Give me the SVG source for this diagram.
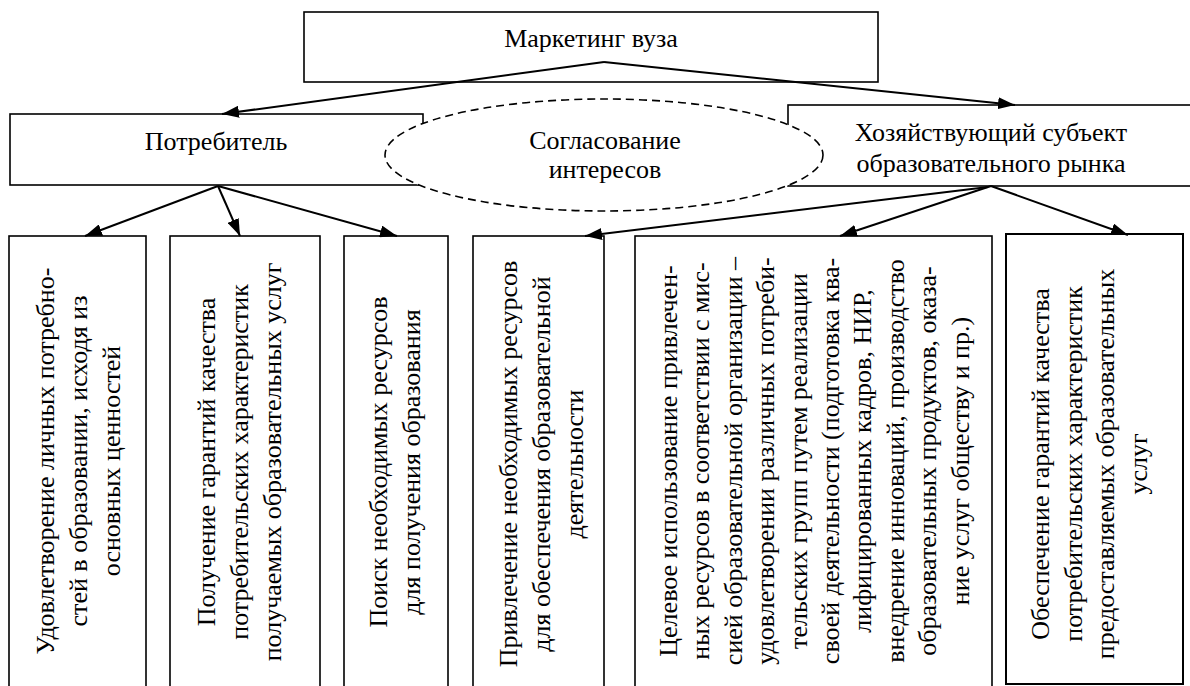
<svg xmlns="http://www.w3.org/2000/svg" width="1190" height="686" viewBox="0 0 1190 686" font-family="'Liberation Serif', Tinos, 'Times New Roman', 'DejaVu Serif', serif">
<defs>
<marker id="ah" markerUnits="userSpaceOnUse" markerWidth="18" markerHeight="12" refX="17" refY="6" orient="auto"><path d="M0,0 L17,6 L0,12 z" fill="#000"/></marker>
<style>
.box{fill:#fff;stroke:#000;stroke-width:1.6}
.t{font-family:'Liberation Serif',Tinos,'Times New Roman','DejaVu Serif',serif;font-size:26px;fill:#000;text-anchor:middle}
.c{fill:none;stroke:#000;stroke-width:2;marker-end:url(#ah)}
.ell{fill:#fff;stroke:#000;stroke-width:1.6;stroke-dasharray:8 5}
</style>
</defs>
<rect width="1190" height="686" fill="#fff"/>
<g id="n-marketing">
<rect class="box" x="304" y="12" width="574" height="70"/>
<text class="t" x="591" y="47">Маркетинг вуза</text>
</g>
<g id="n-consumer">
<rect class="box" x="10" y="114" width="413" height="71"/>
<text class="t" x="216" y="150">Потребитель</text>
</g>
<g id="n-subject">
<rect class="box" x="788" y="105" width="410" height="81"/>
<text class="t" x="991" y="141">Хозяйствующий субъект</text>
<text class="t" x="991" y="172">образовательного рынка</text>
</g>
<g id="n-agreement">
<ellipse class="ell" cx="604" cy="155" rx="219" ry="56"/>
<text class="t" x="605" y="149">Согласование</text>
<text class="t" x="605" y="178">интересов</text>
</g>
<g id="n-b1">
<rect class="box" x="9" y="236" width="137" height="470"/>
<text class="t" transform="translate(54,461) rotate(-90)"><tspan x="0" y="0">Удовлетворение личных потребно-</tspan><tspan x="0" y="33">стей в образовании, исходя из</tspan><tspan x="0" y="66">основных ценностей</tspan></text>
</g>
<g id="n-b2">
<rect class="box" x="170" y="236" width="150" height="470"/>
<text class="t" transform="translate(215,462) rotate(-90)"><tspan x="0" y="0">Получение гарантий качества</tspan><tspan x="0" y="33">потребительских характеристик</tspan><tspan x="0" y="66">получаемых образовательных услуг</tspan></text>
</g>
<g id="n-b3">
<rect class="box" x="344" y="236" width="104" height="470"/>
<text class="t" transform="translate(387,462) rotate(-90)"><tspan x="0" y="0">Поиск необходимых ресурсов</tspan><tspan x="0" y="33">для получения образования</tspan></text>
</g>
<g id="n-b4">
<rect class="box" x="473" y="236" width="131" height="470"/>
<text class="t" transform="translate(517,464) rotate(-90)"><tspan x="0" y="0">Привлечение необходимых ресурсов</tspan><tspan x="0" y="33">для обеспечения образовательной</tspan><tspan x="0" y="66">деятельности</tspan></text>
</g>
<g id="n-b5">
<rect class="box" x="635" y="236" width="357" height="470"/>
<text class="t" transform="translate(677,461) rotate(-90)"><tspan x="0" y="0">Целевое использование привлечен-</tspan><tspan x="0" y="32.4">ных ресурсов в соответствии с мис-</tspan><tspan x="0" y="64.8">сией образовательной организации –</tspan><tspan x="0" y="97.2">удовлетворении различных потреби-</tspan><tspan x="0" y="129.6">тельских групп путем реализации</tspan><tspan x="0" y="162">своей деятельности (подготовка ква-</tspan><tspan x="0" y="194.4">лифицированных кадров, НИР,</tspan><tspan x="0" y="226.8">внедрение инноваций, производство</tspan><tspan x="0" y="259.2">образовательных продуктов, оказа-</tspan><tspan x="0" y="291.6">ние услуг обществу и пр.)</tspan></text>
</g>
<g id="n-b6">
<rect class="box" x="1006" y="234" width="177" height="450" style="stroke-width:2"/>
<text class="t" transform="translate(1049,464) rotate(-90)"><tspan x="0" y="0">Обеспечение гарантий качества</tspan><tspan x="0" y="32.5">потребительских характеристик</tspan><tspan x="0" y="65">предоставляемых образовательных</tspan><tspan x="0" y="97.5">услуг</tspan></text>
</g>
<g id="connectors">
<line class="c" x1="604" y1="62" x2="222" y2="114"/>
<line class="c" x1="604" y1="62" x2="1015" y2="105"/>
<line class="c" x1="218" y1="186" x2="85" y2="236"/>
<line class="c" x1="218" y1="186" x2="240" y2="236"/>
<line class="c" x1="218" y1="186" x2="397" y2="236"/>
<line class="c" x1="988" y1="187" x2="585" y2="236"/>
<line class="c" x1="991" y1="186" x2="840" y2="236"/>
<line class="c" x1="991" y1="186" x2="1128" y2="235"/>
</g>
</svg>
